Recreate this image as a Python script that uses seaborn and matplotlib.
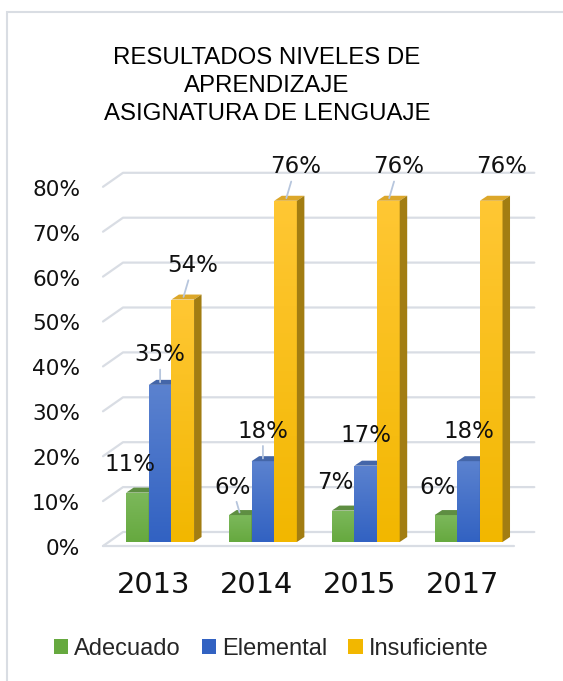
import numpy as np
import pandas as pd
import matplotlib
matplotlib.use("Agg")
import matplotlib.pyplot as plt
import matplotlib.transforms as mtransforms
from matplotlib.patches import Polygon, Rectangle
from matplotlib.colors import LinearSegmentedColormap
import seaborn as sns

# ---------------- data ----------------
years = ["2013", "2014", "2015", "2017"]
series = ["Adecuado", "Elemental", "Insuficiente"]
adecuado = [0.11, 0.06, 0.07, 0.06]
elemental = [0.35, 0.18, 0.17, 0.18]
insuficiente = [0.54, 0.76, 0.76, 0.76]
ytick_values = [0.0, 0.1, 0.2, 0.3, 0.4, 0.5, 0.6, 0.7, 0.8]
title_text = "RESULTADOS NIVELES DE\nAPRENDIZAJE\nASIGNATURA DE LENGUAJE"

df = pd.DataFrame({
    "Año": years * 3,
    "Nivel": [s for s in series for _ in years],
    "Valor": adecuado + elemental + insuficiente,
})

# ---------------- styles ----------------
front_top = ["#7cb85b", "#5b82cf", "#ffc734"]
front_bot = ["#66a93f", "#3262c2", "#f2b700"]
top_face = ["#5e8e42", "#4466a8", "#dca72a"]
side_face = ["#4e7a35", "#2c4f95", "#a27d12"]
grid_col = "#d9dde4"
leader_col = "#b7c6dd"
# label offsets (px, screen) per series relative to bar top centre
label_off = {0: (-8, -26), 1: (0, -28), 2: (10, -32)}
leader = {("2013", 1), ("2013", 2), ("2014", 0), ("2014", 1), ("2014", 2), ("2015", 2)}

W, H, DPI = 563, 681, 100
fig = plt.figure(figsize=(W / DPI, H / DPI), dpi=DPI)
sns.set_style("white")
plt.rcParams["font.family"] = ["DejaVu Sans"]

# bar plane: x 108.7..520 px, y 542 (0) .. 182.8 (0.8)
ax_l, ax_r, ax_b, ax_t = 108.7, 520.0, 542.0, 182.8
ax = fig.add_axes([ax_l / W, (H - ax_b) / H, (ax_r - ax_l) / W, (ax_b - ax_t) / H])
ax.set_facecolor("none")

sns.barplot(data=df, x="Año", y="Valor", hue="Nivel", hue_order=series,
            order=years, palette=front_top, width=0.66, dodge=True,
            saturation=1, errorbar=None, ax=ax, legend=True, linewidth=0)
ax.set_xlim(-0.5, 3.5)
ax.set_ylim(0, 0.8)
for s in ax.spines.values():
    s.set_visible(False)
ax.set_xlabel("")
ax.set_ylabel("")

handles, labels = ax.get_legend_handles_labels()
ax.get_legend().remove()

ID = mtransforms.IdentityTransform()

def px(x, y):
    return ax.transData.transform((x, y))

# gridlines (back wall + floor diagonals)
BDX, BDY = 14.3, 10.0     # back plane offset (display px, up-right)
FDX, FDY = -5.7, -4.0     # front plane offset
for v in ytick_values:
    x0, y0 = px(-0.5, v)
    x1, _ = px(3.5, v)
    ax.add_line(plt.Line2D([x0 + FDX, x0 + BDX, x1 + BDX], [y0 + FDY, y0 + BDY, y0 + BDY],
                           transform=ID, color=grid_col, lw=1.6, zorder=0.5, clip_on=False))
# front floor edge
x0, y0 = px(-0.5, 0)
x1, _ = px(3.5, 0)
ax.add_line(plt.Line2D([x0 + FDX, x1 + FDX], [y0 + FDY, y0 + FDY], transform=ID,
                       color=grid_col, lw=1.6, zorder=0.5, clip_on=False))

# bars: gradients + 3D faces
DDX, DDY = 7.5, 5.0
ncat = len(years)
for i, p in enumerate(ax.patches[: ncat * len(series)]):
    k = i // ncat
    j = i % ncat
    p.set_zorder(3 + k)
    p.set_facecolor(front_bot[k])
    bx, bw, bh = p.get_x(), p.get_width(), p.get_height()
    cmap = LinearSegmentedColormap.from_list("g%d" % k, [front_bot[k], front_top[k]])
    im = ax.imshow(np.linspace(0, 1, 100).reshape(-1, 1), extent=(bx, bx + bw, 0, bh),
                   origin="lower", aspect="auto", cmap=cmap, zorder=3 + k + 0.1)
    im.set_clip_path(p)
    (xa, ya) = px(bx, 0)
    (xb, yb) = px(bx + bw, bh)
    top = Polygon([(xa, yb), (xb, yb), (xb + DDX, yb + DDY), (xa + DDX, yb + DDY)],
                  closed=True, transform=ID, facecolor=top_face[k], edgecolor="none",
                  zorder=3 + k + 0.5)
    side = Polygon([(xb, ya), (xb, yb), (xb + DDX, yb + DDY), (xb + DDX, ya + DDY)],
                   closed=True, transform=ID, facecolor=side_face[k], edgecolor="none",
                   zorder=3 + k + 0.5)
    ax.add_patch(top)
    ax.add_patch(side)
    # data label
    ox, oy = label_off[k]
    val = [adecuado, elemental, insuficiente][k][j]
    draw_leader = (years[j], k) in leader
    ax.annotate(f"{round(val * 100):d}%", xy=(bx + bw / 2, bh),
                xytext=(ox, -oy + 2), textcoords="offset pixels",
                ha="center", va="center", fontsize=16.5, color="#111111",
                zorder=20, annotation_clip=False,
                arrowprops=(dict(arrowstyle="-", color=leader_col, lw=1.3,
                                 shrinkA=0, shrinkB=2) if draw_leader else None))

ax.set_xlim(-0.5, 3.5)
ax.set_ylim(0, 0.8)

# ticks
ax.set_yticks(ytick_values)
ax.set_yticklabels([f"{round(v * 100):d}%" for v in ytick_values])
ax.tick_params(axis="y", length=0, pad=20.5, labelsize=15.6, labelcolor="#111111")
ax.tick_params(axis="x", length=0, pad=21, labelsize=20.8, labelcolor="#111111")
for lab in ax.get_yticklabels():
    lab.set_transform(lab.get_transform() + mtransforms.ScaledTranslation(0, -5 / DPI, fig.dpi_scale_trans))
for lab in ax.get_xticklabels():
    lab.set_transform(lab.get_transform() + mtransforms.ScaledTranslation(-6 / DPI, 0, fig.dpi_scale_trans))
ax.grid(False)

# title
fig.text(267 / W, 1 - 86 / H, title_text, ha="center", va="center", multialignment="center",
         fontsize=17.3, family=["Liberation Sans", "DejaVu Sans"],
         linespacing=1.38, color="#000000")

# legend
leg = fig.legend(handles, labels, loc="center", bbox_to_anchor=(271 / W, 1 - 649 / H),
                 ncol=3, frameon=False, prop={"family": ["Liberation Sans", "DejaVu Sans"], "size": 17},
                 handlelength=0.6, handleheight=0.6, handletextpad=0.25, columnspacing=0.9,
                 borderpad=0, borderaxespad=0)
for h, c in zip(leg.legend_handles, front_bot):
    h.set_facecolor(c)
    h.set_edgecolor("none")

# chart border
fig.add_artist(Rectangle((7 / W, -0.01), 1.02, 1 - 12 / H + 0.01, transform=fig.transFigure,
                         fill=False, edgecolor="#d9dde3", lw=1.5))

fig.savefig("out.png", dpi=DPI)
